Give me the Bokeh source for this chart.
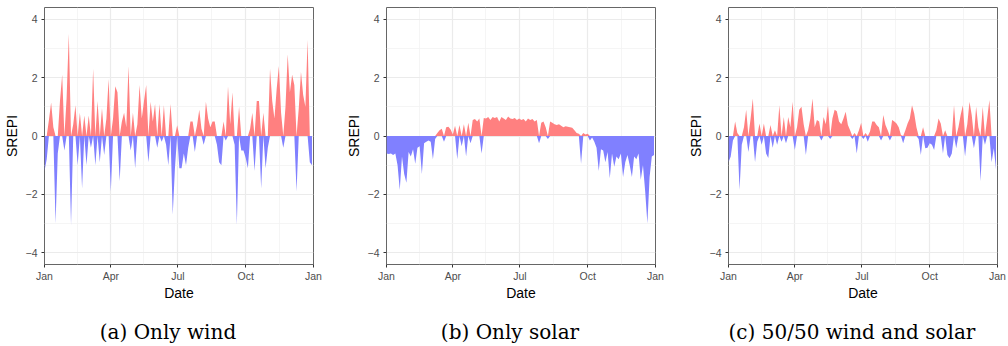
import numpy as np
import pandas as pd
from bokeh.plotting import figure
from bokeh.models import Range1d, FixedTicker, DatetimeTickFormatter, Div
from bokeh.layouts import row, column
from bokeh.embed import file_html
from bokeh.resources import INLINE

dates = pd.date_range("2019-01-01", periods=122, freq="3D")

wind = [-1.2, -0.8, 0.55, 1.15, 0.3, -3.0, -0.6, 1.2, 2.1, -0.5,
        1.3, 3.5, -3.05, 0.4, 1.05, -1.0, 0.8, -1.8, 0.7, -1.0,
        0.7, -0.4, 2.3, -1.0, 1.2, -0.9, 0.95, -0.65, 0.6, 1.95,
        -1.9, 0.6, 1.7, 1.5, -1.55, 0.5, 0.8, 0.3, 2.4, -0.5,
        0.8, -1.1, 0.4, 1.75, 0.6, 1.2, 1.75, -0.9, 1.17, 0.5,
        1.1, -0.4, 1.1, -0.2, 1.05, -0.3, -1.0, 1.1, -2.7, -1.1,
        0.37, -1.1, -1.1, -0.6, -1.0, -0.4, 0.5, 0.5, -0.55, 0.37,
        0.9, 0.25, -0.3, 1.17, 0.6, 0.3, 0.5, 0.5, -0.3, -0.9,
        -1.0, 0.5, -0.15, 1.7, 0.4, 1.5, -0.3, -3.05, 1.0, -0.5,
        -0.5, -0.75, -1.1, 0.25, 0.8, -1.2, 1.2, 1.2, -1.8, 0.8,
        -1.1, -0.4, 2.3, 1.2, 0.6, 1.6, 2.4, 0.8, -0.4, 1.0,
        2.8, 1.5, 2.1, 1.75, -1.9, 0.95, 2.2, 1.4, 1.0, 3.3,
        -0.9, -1.0]

solar = [-0.6, -0.62, -0.6, -0.65, -0.6, -1.0, -1.85, -0.7, -1.3, -1.6,
         -0.55, -0.7, -0.45, -0.95, -0.4, -0.35, -1.3, -0.25, -0.2, -0.15,
         -0.2, -0.8, -0.1, 0.1, 0.2, 0.25, -0.2, 0.3, 0.32, 0.22,
         0.05, 0.35, -0.8, 0.38, -0.35, 0.4, -0.7, 0.45, -0.25, 0.55,
         0.58, 0.5, 0.6, -0.6, 0.62, 0.6, 0.65, 0.55, 0.65, 0.62,
         0.65, 0.5, 0.65, 0.6, 0.55, 0.67, 0.6, 0.58, 0.62, 0.55,
         0.6, 0.55, 0.58, 0.5, 0.6, 0.55, 0.58, 0.5, 0.55, -0.25,
         0.45, 0.5, 0.3, -0.1, 0.5, 0.45, 0.4, 0.38, 0.4, 0.35,
         0.3, 0.33, 0.32, 0.3, 0.28, 0.2, 0.1, 0.08, -0.95, 0.1,
         0.05, 0.08, -0.15, -0.05, -0.2, -0.4, -1.2, -0.45, -0.5, -0.9,
         -0.55, -1.45, -0.6, -1.05, -0.7, -0.8, -0.6, -1.4, -0.9, -0.65,
         -1.0, -1.4, -0.7, -0.8, -0.6, -1.5, -1.0, -1.9, -3.0, -1.4,
         -0.7, -0.65]

mixed = [-0.9, -0.7, -0.15, 0.5, 0.1, -1.85, -0.3, 0.3, 0.9, -0.55,
         0.6, 1.28, -0.9, -0.2, 0.43, -0.3, 0.43, -0.6, -0.75, 0.38,
         -0.4, 0.2, -0.3, 1.05, -0.2, 0.65, -0.25, 0.65, 0.3, 1.17,
         -0.48, 0.3, 0.9, 1.0, 0.4, -0.65, 0.2, 0.6, 1.28, 0.3,
         0.55, 0.5, -0.15, 0.65, 0.4, 1.05, -0.1, 0.6, 0.9, 0.85,
         0.5, 0.4, 0.6, 0.83, 0.38, 0.2, -0.1, 0.1, -0.6, 0.2,
         0.45, -0.1, 0.1, -0.2, 0.15, 0.5, 0.5, 0.38, 0.3, -0.15,
         0.72, 0.38, 0.2, -0.15, 0.55, 0.5, 0.43, 0.3, 0.03, -0.25,
         0.2, 0.43, 0.6, 1.05, 0.77, 0.3, -0.1, -0.65, 0.3, -0.42,
         -0.4, -0.25, -0.3, -0.48, 0.2, 0.6, 0.43, -0.6, 0.2, -0.65,
         -0.76, -0.6, 1.05, -0.42, 0.3, 0.72, 1.05, -0.7, 0.4, 1.17,
         0.72, -0.42, 1.0, 0.3, -1.55, 1.0, -0.3, 0.6, 1.23, -0.9,
         -0.42, -1.15]

captions = ["(a) Only wind", "(b) Only solar", "(c) 50/50 wind and solar"]
series = [wind, solar, mixed]

month_ticks = ["2019-01-01", "2019-04-01", "2019-07-01", "2019-10-01", "2020-01-01"]
month_minor = ["2019-02-15", "2019-05-16", "2019-08-16", "2019-11-16"]
y_ticks = [-4, -2, 0, 2, 4]
y_minor = [-3, -1, 1, 3]


def ms(s):
    return pd.Timestamp(s).value / 1e6


right_borders = [29, 29, 11]

figs = []
divs = []
for i, (vals, cap) in enumerate(zip(series, captions)):
    v = np.array(vals)
    right = right_borders[i]
    w = 44 + 269 + right
    p = figure(width=w, height=318, x_axis_type="datetime",
               output_backend="svg", toolbar_location=None,
               min_border_left=44, min_border_right=right,
               min_border_top=7, min_border_bottom=54,
               x_range=Range1d(pd.Timestamp("2019-01-01"), pd.Timestamp("2020-01-01")),
               y_range=Range1d(-4.4, 4.4))
    p.varea(x=dates, y1=0, y2=np.clip(v, 0, None), fill_color="#ff8080")
    p.varea(x=dates, y1=0, y2=np.clip(v, None, 0), fill_color="#8080ff")

    p.xaxis.ticker = FixedTicker(ticks=[ms(t) for t in month_ticks],
                                 minor_ticks=[ms(t) for t in month_minor])
    p.xaxis.formatter = DatetimeTickFormatter(months="%b", days="%b", years="%b",
                                              hours="%b", minutes="%b")
    p.yaxis.ticker = FixedTicker(ticks=y_ticks, minor_ticks=y_minor)

    for ax in (p.xaxis, p.yaxis):
        ax.axis_line_color = None
        ax.major_tick_line_color = "#333333"
        ax.major_tick_out = 3
        ax.major_tick_in = 0
        ax.minor_tick_line_color = None
        ax.major_label_text_color = "#4d4d4d"
        ax.major_label_text_font = "Liberation Sans"
        ax.major_label_text_font_size = "10.5px"
        ax.major_label_standoff = 1
        ax.axis_label_text_font = "Liberation Sans"
        ax.axis_label_text_font_size = "14px"
        ax.axis_label_text_font_style = "normal"
        ax.axis_label_text_color = "black"
        ax.axis_label_standoff = 0
    p.yaxis.major_label_standoff = 3
    p.yaxis.axis_label_standoff = 3
    p.xaxis.axis_label = "Date"
    p.yaxis.axis_label = "SREPI"

    p.grid.grid_line_color = "#ebebeb"
    p.grid.grid_line_width = 1.2
    p.grid.minor_grid_line_color = "#f3f3f3"
    p.grid.minor_grid_line_width = 0.8
    p.outline_line_color = "#666666"
    p.outline_line_width = 1
    p.background_fill_color = "white"
    p.border_fill_color = "white"
    figs.append(p)

    html = ('<div style="width:336px;text-align:center;white-space:nowrap;'
            'font-family:\'DejaVu Serif\';font-size:20px;line-height:28px;'
            'color:black;">%s</div>' % cap)
    divs.append(Div(text=html, width=w, height=28, margin=(0, 0, 0, 0)))

layout = column(row(*figs, spacing=0), row(*divs, spacing=0), spacing=0)
open("out.html", "w").write(file_html(layout, INLINE))
